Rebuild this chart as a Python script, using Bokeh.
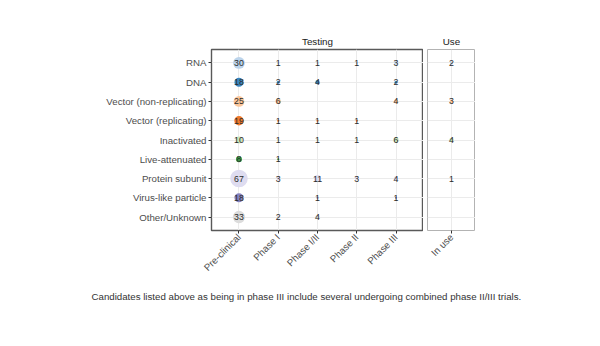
import math
from bokeh.plotting import figure
from bokeh.models import ColumnDataSource, FactorRange, Range1d
from bokeh.layouts import column, row
from bokeh.core.properties import value
from bokeh.embed import file_html
from bokeh.resources import INLINE

FONT = "Liberation Sans"

types = ["RNA", "DNA", "Vector (non-replicating)", "Vector (replicating)",
         "Inactivated", "Live-attenuated", "Protein subunit",
         "Virus-like particle", "Other/Unknown"]
type_colors = ["#bcd4eb", "#3b86bf", "#fcc79b", "#ef7a2c", "#cce5bb",
               "#3b9e45", "#dedcf0", "#8683bf", "#dcdcdc"]

testing_phases = ["Pre-clinical", "Phase I", "Phase I/II", "Phase II", "Phase III"]
use_phases = ["In use"]

pre_clinical = [30, 18, 25, 19, 10, 8, 67, 18, 33]
phase_1 = [1, 2, 6, 1, 1, 1, 3, None, 2]
phase_1_2 = [1, 4, None, 1, 1, None, 11, 1, 4]
phase_2 = [1, None, None, 1, 1, None, 3, None, None]
phase_3 = [3, 2, 4, None, 6, None, 4, 1, None]
in_use = [2, None, 3, None, 4, None, 1, None, None]

caption = ("Candidates listed above as being in phase III include several "
           "undergoing combined phase II/III trials.")


def build(phases, series):
    d = dict(x=[], y=[], v=[], label=[], size=[], color=[])
    for ph, vals in zip(phases, series):
        for t, c, v in zip(types, type_colors, vals):
            if v is None:
                continue
            d["x"].append(ph)
            d["y"].append(t)
            d["v"].append(v)
            d["label"].append(str(v))
            d["size"].append(2.15 * math.sqrt(v))
            d["color"].append(c)
    return ColumnDataSource(d)


def style(p, title):
    p.title.text = title
    p.title.align = "center"
    p.title.text_font = FONT
    p.title.text_font_size = "9.8px"
    p.title.text_font_style = "normal"
    p.title.text_color = "#1a1a1a"
    p.title.standoff = 6
    p.xgrid.grid_line_color = "#ebebeb"
    p.ygrid.grid_line_color = "#ebebeb"
    p.background_fill_color = "white"
    p.border_fill_color = "white"
    for ax in p.axis:
        ax.axis_line_color = None
        ax.major_tick_line_color = "#333333"
        ax.major_tick_in = 0
        ax.major_tick_out = 3
        ax.minor_tick_line_color = None
        ax.major_label_text_font = FONT
        ax.major_label_text_font_size = "9.7px"
        ax.major_label_text_color = "#4d4d4d"
        ax.major_label_standoff = 2
    p.xaxis.major_label_orientation = math.pi / 4


def draw(p, src):
    p.scatter("x", "y", source=src, size="size", fill_color="color",
              line_color=None)
    p.text("x", "y", text="label", source=src, text_align="center",
           text_baseline="middle", text_font=value(FONT),
           text_font_size="8.8px", text_color="#2b2b2b")


yr = FactorRange(factors=list(reversed(types)), range_padding=0.2,
                 range_padding_units="absolute")

p1 = figure(x_range=FactorRange(factors=testing_phases, range_padding=0.2,
                                range_padding_units="absolute"),
            y_range=yr, frame_width=212, frame_height=181,
            min_border_left=211, min_border_right=0, min_border_top=49,
            min_border_bottom=50, output_backend="svg", toolbar_location=None)
style(p1, "Testing")
p1.outline_line_color = "#595959"
p1.outline_line_width = 1.4
draw(p1, build(testing_phases, [pre_clinical, phase_1, phase_1_2, phase_2, phase_3]))

p2 = figure(x_range=FactorRange(factors=use_phases, range_padding=0.2,
                                range_padding_units="absolute"),
            y_range=FactorRange(factors=list(reversed(types)), range_padding=0.2,
                                range_padding_units="absolute"),
            y_axis_location=None, frame_width=48, frame_height=181,
            min_border_left=4, min_border_right=0, min_border_top=49,
            min_border_bottom=50, output_backend="svg", toolbar_location=None)
style(p2, "Use")
p2.outline_line_color = "#b3b3b3"
p2.outline_line_width = 1
draw(p2, build(use_phases, [in_use]))

p3 = figure(width=600, height=66, x_range=Range1d(0, 600), y_range=Range1d(0, 66),
            min_border=0, output_backend="svg", toolbar_location=None)
p3.axis.visible = False
p3.grid.visible = False
p3.outline_line_color = None
p3.text(x=[91], y=[50], text=[caption], text_align="left",
        text_baseline="middle", text_font=value(FONT), text_font_size="9.7px",
        text_color="#333333")

layout = column(row(p1, p2), p3)
open("out.html", "w").write(file_html(layout, INLINE))
